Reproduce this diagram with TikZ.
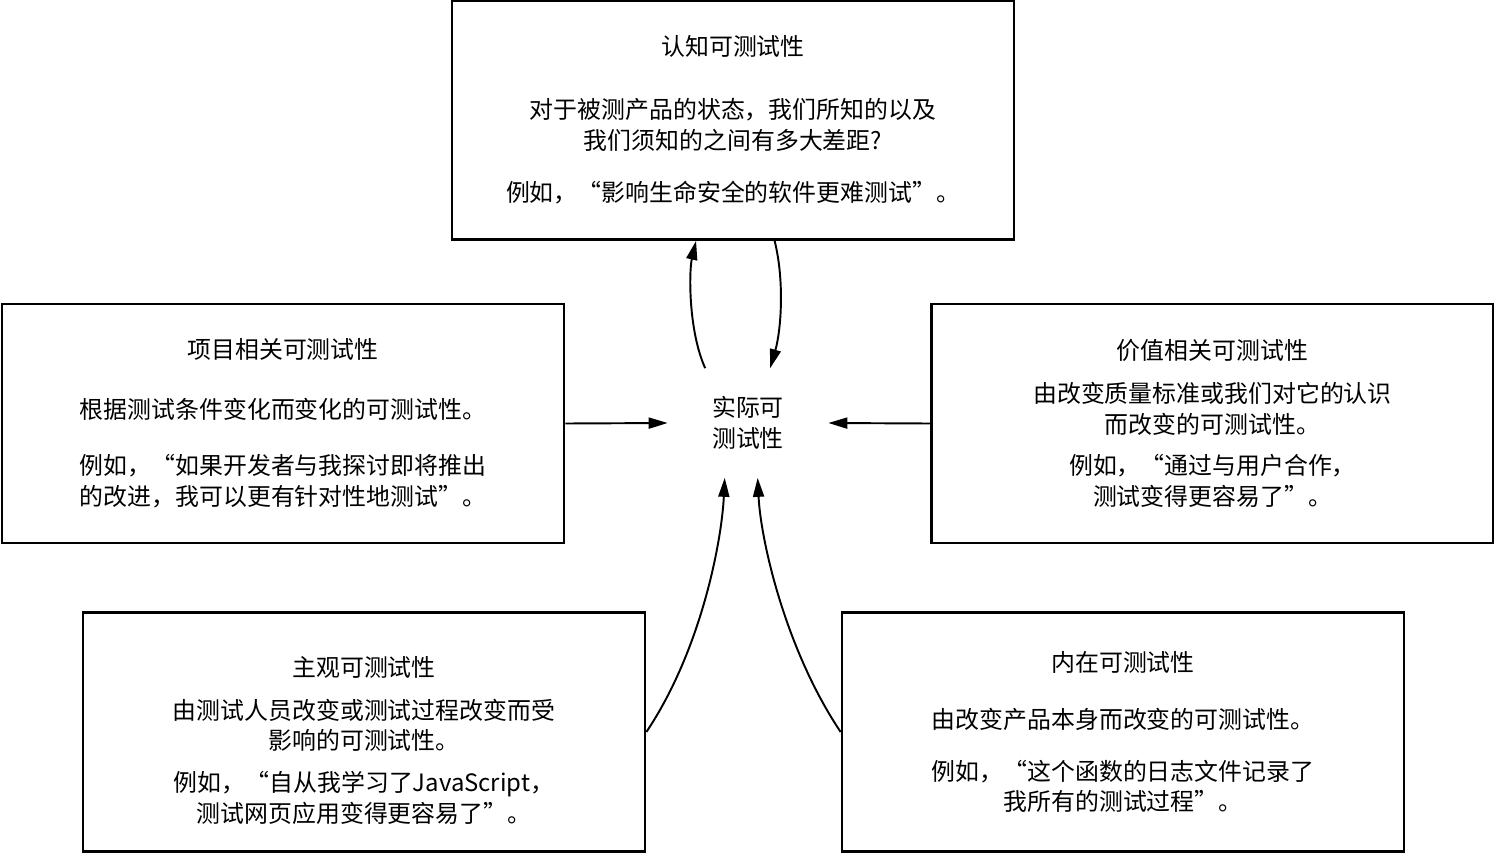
\documentclass[tikz,border=0pt]{standalone}
\usepackage{fontspec}
\setmainfont{Noto Sans CJK SC}
\usetikzlibrary{arrows.meta}

\begin{document}
\begin{tikzpicture}[
  x=0.02cm, y=-0.02cm,
  font=\fontsize{13.6}{17.6}\selectfont,
  box/.style={draw, line width=1.6pt, align=center, inner sep=0pt,
              minimum width=11.24cm, minimum height=4.78cm},
  core/.style={align=center, minimum width=3.2cm, minimum height=2.18cm, inner sep=0pt},
  ar/.style={-{Triangle[length=3.8mm,width=2.2mm]}, line width=1.1pt}
]
  \useasboundingbox (0,0) rectangle (1494,859);

  \node[core] (mid) at (748,423) {实际可\\测试性};

  \node[box] (epi) at (733,120) {认知可测试性\\[0.64cm]
    对于被测产品的状态，我们所知的以及\\ 我们须知的之间有多大差距?\\[0.42cm]
    例如，“影响生命安全的软件更难测试”。};
  \node[box] (proj) at (283,423.5) {项目相关可测试性\\[0.58cm]
    根据测试条件变化而变化的可测试性。\\[0.5cm]
    例如，“如果开发者与我探讨即将推出\\ 的改进，我可以更有针对性地测试”。};
  \node[box] (val) at (1212.5,423.5) {价值相关可测试性\\[0.24cm]
    由改变质量标准或我们对它的认识\\ 而改变的可测试性。\\[0.22cm]
    例如，“通过与用户合作，\\ 测试变得更容易了”。};
  \node[box] (subj) at (364,732) {\rule{0pt}{0.74cm}主观可测试性\\[0.24cm]
    由测试人员改变或测试过程改变而受\\ 影响的可测试性。\\[0.22cm]
    例如，“自从我学习了JavaScript，\\ 测试网页应用变得更容易了”。};
  \node[box] (intr) at (1123,732) {内在可测试性\\[0.52cm]
    由改变产品本身而改变的可测试性。\\[0.42cm]
    例如，“这个函数的日志文件记录了\\ 我所有的测试过程”。};

  \draw[ar] (proj.east) -- (mid.west);
  \draw[ar] (val.west) -- (mid.east);
  \draw[ar] (mid.128) .. controls +(-17,-38) and +(-7,30) .. (epi.-107);
  \draw[ar] (epi.-71) .. controls +(10,40) and +(11,-38) .. (mid.68);
  \draw[ar] (subj.east) .. controls +(55,-82) and +(-3,63) .. (mid.-113);
  \draw[ar] (intr.west) .. controls +(-55,-82) and +(3,63) .. (mid.-80);
\end{tikzpicture}
\end{document}
